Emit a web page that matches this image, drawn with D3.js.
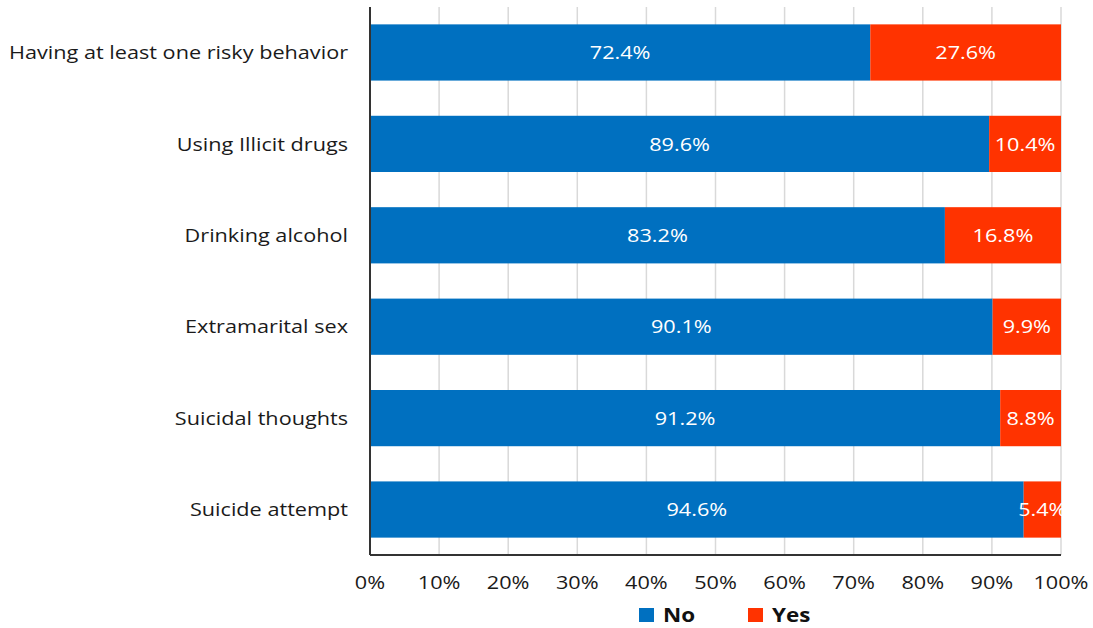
<!DOCTYPE html>
<html>
<head>
<meta charset="utf-8">
<script src="https://cdn.jsdelivr.net/npm/d3@7"></script>
<style>
  body { margin: 0; background: #fff; }
  svg { font-family: "Open Sans", "Noto Sans", sans-serif; }
</style>
</head>
<body>
<svg id="chart" width="1093" height="628"></svg>
<script>
const categories = [
    'Having at least one risky behavior',
    'Using Illicit drugs',
    'Drinking alcohol',
    'Extramarital sex',
    'Suicidal thoughts',
    'Suicide attempt'
];
const noValues = [72.4, 89.6, 83.2, 90.1, 91.2, 94.6];
const yesValues = [27.6, 10.4, 16.8, 9.9, 8.8, 5.4];
const seriesNames = ['No', 'Yes'];
const xTicks = [0, 10, 20, 30, 40, 50, 60, 70, 80, 90, 100];

const colors = { No: '#0070C0', Yes: '#FF3300' };

const svg = d3.select('#chart');
const plotLeft = 370, plotRight = 1061, plotTop = 7, plotBottom = 555;
// the source text is a bit stretched sideways
const stretch = 1.14;

const x = d3.scaleLinear()
    .domain([0, 100])
    .range([plotLeft, plotRight]);

const y = d3.scaleBand()
    .domain(categories)
    .range([plotTop, plotBottom])
    .paddingInner(0.385)
    .paddingOuter(0.19);

// gridlines
svg.append('g')
    .selectAll('line')
    .data(xTicks.slice(1))
    .enter().append('line')
    .attr('x1', d => x(d)).attr('x2', d => x(d))
    .attr('y1', plotTop).attr('y2', plotBottom)
    .attr('stroke', '#d9d9d9')
    .attr('stroke-width', 1.5);

const rows = categories.map((c, i) => ({ cat: c, No: noValues[i], Yes: yesValues[i] }));
const stacked = d3.stack().keys(seriesNames)(rows);

stacked.forEach(series => {
    const g = svg.append('g');
    g.selectAll('rect')
        .data(series)
        .enter().append('rect')
        .attr('x', d => x(d[0]))
        .attr('width', d => x(d[1]) - x(d[0]))
        .attr('y', d => y(d.data.cat))
        .attr('height', y.bandwidth())
        .attr('fill', colors[series.key]);

    g.selectAll('text')
        .data(series)
        .enter().append('text')
        .attr('transform', d => `translate(${(x(d[0]) + x(d[1])) / 2},${y(d.data.cat) + y.bandwidth() / 2}) scale(${stretch},1)`)
        .attr('dy', '0.35em')
        .attr('text-anchor', 'middle')
        .attr('fill', '#fff')
        .attr('font-size', 19)
        .text(d => d.data[series.key].toFixed(1) + '%');
});

// category labels
svg.append('g')
    .selectAll('text')
    .data(categories)
    .enter().append('text')
    .attr('transform', d => `translate(${plotLeft - 22},${y(d) + y.bandwidth() / 2}) scale(${stretch},1)`)
    .attr('dy', '0.35em')
    .attr('text-anchor', 'end')
    .attr('font-size', 19)
    .attr('fill', '#1a1a1a')
    .text(d => d);

// axes lines
svg.append('line')
    .attr('x1', plotLeft).attr('x2', plotLeft)
    .attr('y1', plotTop).attr('y2', plotBottom)
    .attr('stroke', '#333').attr('stroke-width', 2);
svg.append('line')
    .attr('x1', plotLeft).attr('x2', plotRight)
    .attr('y1', plotBottom).attr('y2', plotBottom)
    .attr('stroke', '#333').attr('stroke-width', 2);

// x tick labels
svg.append('g')
    .selectAll('text')
    .data(xTicks)
    .enter().append('text')
    .attr('transform', d => `translate(${x(d)},582) scale(${stretch},1)`)
    .attr('dy', '0.35em')
    .attr('text-anchor', 'middle')
    .attr('font-size', 19)
    .attr('fill', '#1a1a1a')
    .text(d => d + '%');

// legend
const legendX = [639, 748];
const legend = svg.append('g')
    .selectAll('g')
    .data(seriesNames)
    .enter().append('g')
    .attr('transform', (d, i) => `translate(${legendX[i]},615)`);
legend.append('rect')
    .attr('x', 0).attr('y', -7)
    .attr('width', 15).attr('height', 14)
    .attr('fill', d => colors[d]);
legend.append('text')
    .attr('transform', `translate(24,0) scale(1.18,1)`)
    .attr('dy', '0.35em')
    .attr('font-size', 19)
    .attr('font-weight', 'bold')
    .attr('fill', '#111')
    .text(d => d);
</script>
</body>
</html>
